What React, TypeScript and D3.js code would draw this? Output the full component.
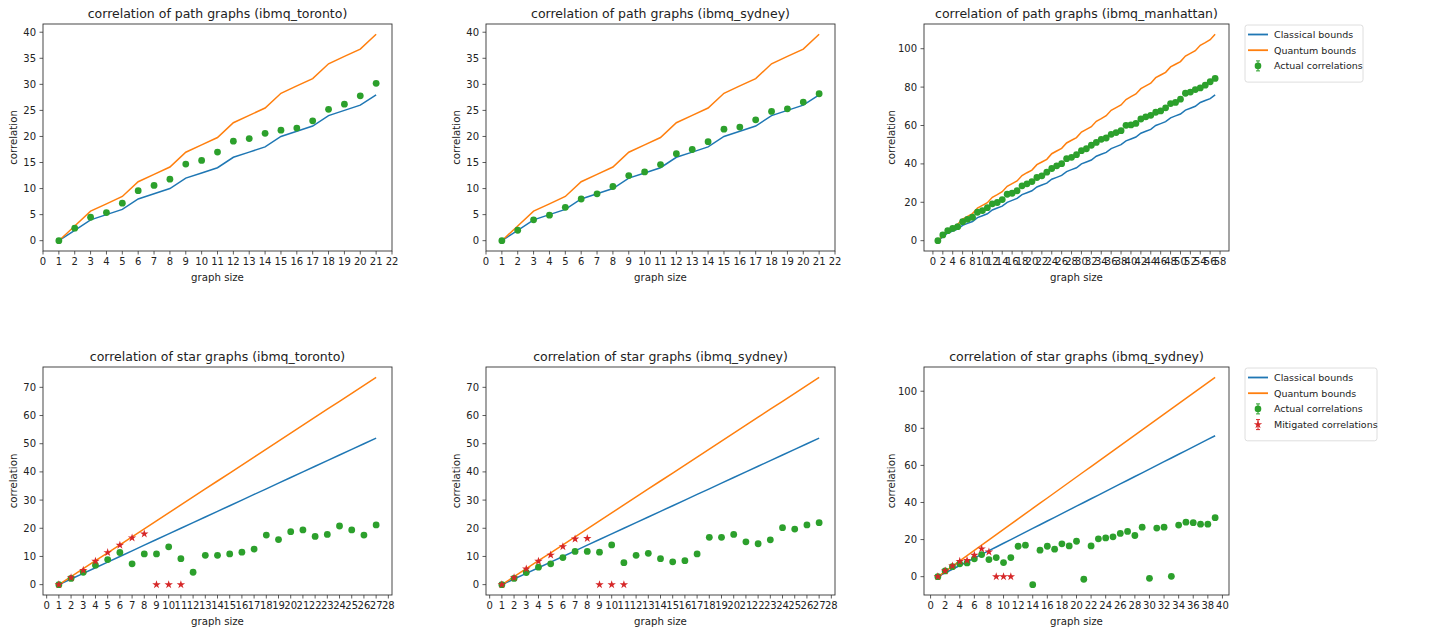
import React from "react";
import * as d3 from "d3";

// path graphs, sizes 1..21 (toronto / sydney) and 1..57 (manhattan)
const pathClassical21 = [0, 2, 4, 5, 6, 8, 9, 10, 12, 13, 14, 16, 17, 18, 20, 21, 22, 24, 25, 26, 28];
const pathQuantum21 = [0, 2.83, 5.66, 7.07, 8.49, 11.31, 12.73, 14.14, 16.97, 18.38, 19.8, 22.63, 24.04, 25.46, 28.28, 29.7, 31.11, 33.94, 35.36, 36.77, 39.6];
const pathTorontoActual = [0, 2.4, 4.5, 5.4, 7.2, 9.6, 10.6, 11.8, 14.7, 15.4, 17.0, 19.1, 19.6, 20.6, 21.2, 21.6, 23.0, 25.2, 26.2, 27.8, 30.2];
const pathSydneyActual = [0, 2.0, 4.0, 4.9, 6.4, 8.0, 9.0, 10.4, 12.5, 13.2, 14.6, 16.7, 17.5, 19.0, 21.4, 21.8, 23.2, 24.8, 25.3, 26.6, 28.2];

const pathClassical57 = [0, 2, 4, 5, 6, 8, 9, 10, 12, 13, 14, 16, 17, 18, 20, 21, 22, 24, 25, 26, 28, 29, 30, 32, 33, 34, 36, 37, 38, 40, 41, 42, 44, 45, 46, 48, 49, 50, 52, 53, 54, 56, 57, 58, 60, 61, 62, 64, 65, 66, 68, 69, 70, 72, 73, 74, 76];
const pathQuantum57 = [0, 2.8, 5.7, 7.1, 8.5, 11.3, 12.7, 14.1, 17.0, 18.4, 19.8, 22.6, 24.0, 25.5, 28.3, 29.7, 31.1, 33.9, 35.4, 36.8, 39.6, 41.0, 42.4, 45.3, 46.7, 48.1, 50.9, 52.3, 53.7, 56.6, 58.0, 59.4, 62.2, 63.6, 65.1, 67.9, 69.3, 70.7, 73.5, 75.0, 76.4, 79.2, 80.6, 82.0, 84.9, 86.3, 87.7, 90.5, 91.9, 93.3, 96.2, 97.6, 99.0, 101.8, 103.2, 104.7, 107.5];
const pathManhattanActual = [0, 3.0, 5.2, 6.4, 7.3, 9.9, 11.1, 12.2, 14.8, 15.7, 17.2, 19.2, 19.9, 21.4, 24.2, 24.7, 26.0, 28.6, 29.6, 30.8, 32.9, 33.8, 35.7, 37.6, 39.0, 40.1, 42.7, 43.4, 44.8, 46.9, 47.9, 49.7, 51.2, 52.8, 53.5, 55.4, 56.3, 57.3, 60.1, 60.3, 61.1, 63.4, 64.5, 65.3, 66.9, 67.6, 69.2, 71.4, 72.0, 73.7, 76.8, 77.4, 78.7, 79.6, 81.0, 82.8, 84.5];

// star graphs, sizes 1..27 and 1..39
const starClassical27 = [0, 2, 4, 6, 8, 10, 12, 14, 16, 18, 20, 22, 24, 26, 28, 30, 32, 34, 36, 38, 40, 42, 44, 46, 48, 50, 52];
const starQuantum27 = [0, 2.83, 5.66, 8.49, 11.31, 14.14, 16.97, 19.8, 22.63, 25.46, 28.28, 31.11, 33.94, 36.77, 39.6, 42.43, 45.25, 48.08, 50.91, 53.74, 56.57, 59.4, 62.23, 65.05, 67.88, 70.71, 73.54];
const starTorontoActual = [0, 2.2, 4.4, 6.9, 8.9, 11.4, 7.4, 10.9, 10.9, 13.4, 9.2, 4.4, 10.4, 10.4, 10.9, 11.5, 12.6, 17.6, 16.0, 18.8, 19.4, 17.1, 17.8, 20.8, 19.4, 17.6, 21.2];
const starTorontoMitigated = [0, 2.5, 5.1, 8.3, 11.4, 14.0, 16.6, 18.0, 0, 0, 0];
const starSydneyActual = [0, 2.2, 4.3, 6.2, 7.4, 9.6, 11.8, 11.8, 11.5, 14.1, 7.8, 10.4, 11.1, 9.2, 8.1, 8.5, 10.9, 16.8, 16.8, 17.8, 15.2, 14.5, 15.9, 20.2, 19.7, 21.2, 22.0];
const starSydneyMitigated = [0, 2.5, 5.6, 8.3, 10.5, 13.5, 16.2, 16.4, 0, 0, 0];

const starClassical39 = [0, 2, 4, 6, 8, 10, 12, 14, 16, 18, 20, 22, 24, 26, 28, 30, 32, 34, 36, 38, 40, 42, 44, 46, 48, 50, 52, 54, 56, 58, 60, 62, 64, 66, 68, 70, 72, 74, 76];
const starQuantum39 = [0, 2.83, 5.66, 8.49, 11.31, 14.14, 16.97, 19.8, 22.63, 25.46, 28.28, 31.11, 33.94, 36.77, 39.6, 42.43, 45.25, 48.08, 50.91, 53.74, 56.57, 59.4, 62.23, 65.05, 67.88, 70.71, 73.54, 76.37, 79.2, 82.02, 84.85, 87.68, 90.51, 93.34, 96.17, 98.99, 101.82, 104.65, 107.48];
const starSydney39Actual = [0, 3.1, 5.4, 6.9, 7.4, 9.6, 11.9, 9.2, 10.3, 7.6, 10.3, 16.4, 17.0, -4.3, 14.3, 16.4, 14.8, 17.7, 16.6, 19.1, -1.4, 16.6, 20.4, 20.9, 21.5, 23.3, 24.4, 22.2, 26.7, -0.9, 26.2, 26.7, 0.2, 27.8, 29.4, 29.1, 28.3, 28.3, 31.8];
const starSydney39Mitigated = [0, 3.1, 5.8, 8.3, 8.8, 11.6, 15.0, 13.4, 0, 0, 0];

const legendLabels = ["Classical bounds", "Quantum bounds", "Actual correlations", "Mitigated correlations"];

const BLUE = "#1f77b4";
const ORANGE = "#ff7f0e";
const GREEN = "#2ca02c";
const RED = "#d62728";
const FONT = "DejaVu Sans, sans-serif";

type PanelDef = {
  title: string;
  classical: number[];
  quantum: number[];
  actual: number[];
  mitigated?: number[];
  xStep: number;
  yStep: number;
  left: number;
  right: number;
  top: number;
  bottom: number;
  legend?: boolean;
};

const cols = [[43, 392], [486, 835], [924, 1229]];
const rows = [[24, 251], [367, 595]];

const panels: PanelDef[] = [
  { title: "correlation of path graphs (ibmq_toronto)", classical: pathClassical21, quantum: pathQuantum21, actual: pathTorontoActual, xStep: 1, yStep: 5, left: cols[0][0], right: cols[0][1], top: rows[0][0], bottom: rows[0][1] },
  { title: "correlation of path graphs (ibmq_sydney)", classical: pathClassical21, quantum: pathQuantum21, actual: pathSydneyActual, xStep: 1, yStep: 5, left: cols[1][0], right: cols[1][1], top: rows[0][0], bottom: rows[0][1] },
  { title: "correlation of path graphs (ibmq_manhattan)", classical: pathClassical57, quantum: pathQuantum57, actual: pathManhattanActual, xStep: 2, yStep: 20, left: cols[2][0], right: cols[2][1], top: rows[0][0], bottom: rows[0][1], legend: true },
  { title: "correlation of star graphs (ibmq_toronto)", classical: starClassical27, quantum: starQuantum27, actual: starTorontoActual, mitigated: starTorontoMitigated, xStep: 1, yStep: 10, left: cols[0][0], right: cols[0][1], top: rows[1][0], bottom: rows[1][1] },
  { title: "correlation of star graphs (ibmq_sydney)", classical: starClassical27, quantum: starQuantum27, actual: starSydneyActual, mitigated: starSydneyMitigated, xStep: 1, yStep: 10, left: cols[1][0], right: cols[1][1], top: rows[1][0], bottom: rows[1][1] },
  { title: "correlation of star graphs (ibmq_sydney)", classical: starClassical39, quantum: starQuantum39, actual: starSydney39Actual, mitigated: starSydney39Mitigated, xStep: 2, yStep: 20, left: cols[2][0], right: cols[2][1], top: rows[1][0], bottom: rows[1][1], legend: true },
];

// matplotlib style 5% margins
const padded = (lo: number, hi: number): [number, number] => {
  const m = (hi - lo) * 0.05;
  return [lo - m, hi + m];
};

const starPath = d3.symbol(d3.symbolStar, 22)() as string;

const Legend = ({ x, y, withMitigated }: { x: number; y: number; withMitigated: boolean }) => {
  const n = withMitigated ? 4 : 3;
  const rowH = 15.7;
  const w = withMitigated ? 132 : 118;
  const h = 10 + n * rowH;
  return (
    <g transform={`translate(${x},${y})`}>
      <rect width={w} height={h} rx={2.5} fill="white" stroke="#d5d5d5" strokeWidth={0.8} />
      {legendLabels.slice(0, n).map((lab, i) => {
        const cy = 9.5 + i * rowH;
        return (
          <g key={lab}>
            {i < 2 ? (
              <line x1={3} x2={23} y1={cy} y2={cy} stroke={i === 0 ? BLUE : ORANGE} strokeWidth={1.8} />
            ) : (
              <g stroke={i === 2 ? GREEN : RED} strokeWidth={1}>
                <line x1={13} x2={13} y1={cy - 5} y2={cy + 5} />
                <line x1={11} x2={15} y1={cy - 5} y2={cy - 5} />
                <line x1={11} x2={15} y1={cy + 5} y2={cy + 5} />
                {i === 2 ? (
                  <circle cx={13} cy={cy} r={3.3} fill={GREEN} stroke="none" />
                ) : (
                  <path d={starPath} transform={`translate(13,${cy})`} fill={RED} stroke="none" />
                )}
              </g>
            )}
            <text x={29} y={cy} dy="0.35em" fontSize={9.5} fill="#222" fontFamily={FONT}>{lab}</text>
          </g>
        );
      })}
    </g>
  );
};

const Panel = ({ p }: { p: PanelDef }) => {
  const n = p.classical.length;
  const allY = [...p.classical, ...p.quantum, ...p.actual, ...(p.mitigated ?? [])];
  const x = d3.scaleLinear().domain(padded(1, n)).range([p.left, p.right]);
  const y = d3.scaleLinear().domain(padded(d3.min(allY) as number, d3.max(allY) as number)).range([p.bottom, p.top]);
  const [x0, x1] = x.domain();
  const [y0, y1] = y.domain();
  const xTicks = d3.range(Math.ceil(x0 / p.xStep) * p.xStep, x1 + 1e-9, p.xStep);
  const yTicks = d3.range(Math.ceil(y0 / p.yStep) * p.yStep, y1 + 1e-9, p.yStep);
  const line = d3.line<number>().x((_, i) => x(i + 1)).y((d) => y(d));
  const cx = (p.left + p.right) / 2;
  const cy = (p.top + p.bottom) / 2;
  const wide = d3.max(yTicks) as number >= 100;
  return (
    <g fontFamily={FONT}>
      <text x={cx} y={p.top - 6} textAnchor="middle" fontSize={12.5} fill="#222">{p.title}</text>
      <path d={line(p.classical) as string} fill="none" stroke={BLUE} strokeWidth={1.5} />
      <path d={line(p.quantum) as string} fill="none" stroke={ORANGE} strokeWidth={1.5} />
      {p.actual.map((v, i) => (
        <circle key={"a" + i} cx={x(i + 1)} cy={y(v)} r={3.4} fill={GREEN} />
      ))}
      {(p.mitigated ?? []).map((v, i) => (
        <path key={"m" + i} d={starPath} transform={`translate(${x(i + 1)},${y(v)})`} fill={RED} />
      ))}
      <rect x={p.left} y={p.top} width={p.right - p.left} height={p.bottom - p.top} fill="none" stroke="#333" strokeWidth={0.9} />
      {xTicks.map((t) => (
        <g key={"x" + t} transform={`translate(${x(t)},${p.bottom})`}>
          <line y2={3.5} stroke="#333" strokeWidth={0.8} />
          <text y={6.5} dy="0.71em" textAnchor="middle" fontSize={10} fill="#222">{t}</text>
        </g>
      ))}
      {yTicks.map((t) => (
        <g key={"y" + t} transform={`translate(${p.left},${y(t)})`}>
          <line x2={-3.5} stroke="#333" strokeWidth={0.8} />
          <text x={-7} dy="0.35em" textAnchor="end" fontSize={10} fill="#222">{t}</text>
        </g>
      ))}
      <text x={cx} y={p.bottom + 29.5} textAnchor="middle" fontSize={10.2} fill="#222">graph size</text>
      <text transform={`translate(${p.left - (wide ? 29 : 26.5)},${cy}) rotate(-90)`} textAnchor="middle" fontSize={10.2} fill="#222">correlation</text>
      {p.legend && <Legend x={1245} y={p.top + 1} withMitigated={!!p.mitigated} />}
    </g>
  );
};

export default function App() {
  return (
    <svg width={1456} height={633} style={{ position: "absolute", left: 0, top: 0, background: "white" }}>
      {panels.map((p, i) => (
        <Panel key={i} p={p} />
      ))}
    </svg>
  );
}
